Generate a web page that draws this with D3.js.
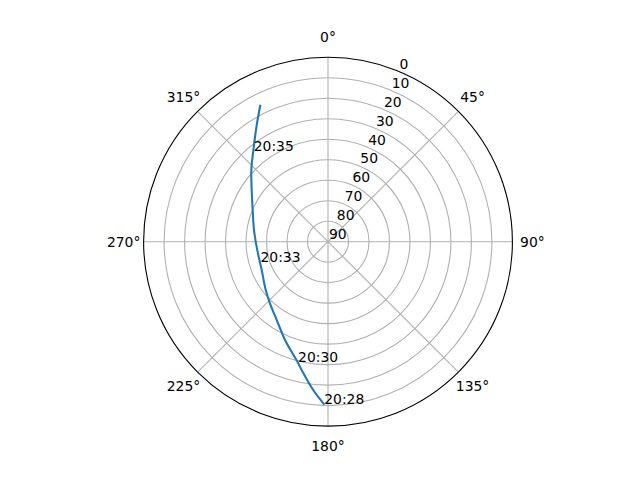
<!DOCTYPE html>
<html>
<head>
<meta charset="utf-8">
<script src="https://cdn.jsdelivr.net/npm/d3@7"></script>
<style>
  html, body { margin: 0; padding: 0; background: #fff; }
  svg { display: block; font-family: "DejaVu Sans", sans-serif; }
</style>
</head>
<body>
<svg id="chart" width="640" height="480"></svg>
<script>
// Pass track: azimuth (deg, clockwise from N) and elevation (deg)
const azimuth   = [181.5, 185.7, 190.6, 194.2, 203.6, 213.2, 223.3, 232.2, 246.9, 253.0, 259.2, 270.0, 279.0, 292.8, 304.1, 313.1, 320.5, 328.6, 333.5];
const elevation = [10.85, 17.26, 24.65, 29.43, 37.63, 44.31, 48.70, 51.53, 54.82, 55.29, 55.37, 54.71, 53.43, 50.12, 45.02, 38.75, 32.65, 23.25, 15.85];
// time annotations and the track point each one sits on
const timeLabels = ["20:28", "20:30", "20:33", "20:35"];
const timeIndex  = [0, 3, 9, 16];
// ticks
const angleTicks  = [0, 45, 90, 135, 180, 225, 270, 315];
const radialTicks = [0, 10, 20, 30, 40, 50, 60, 70, 80, 90];
const gridRings   = [10, 20, 30, 40, 50, 60, 70, 80];

const cx = 328, cy = 241.7, R = 184.4;
const svg = d3.select("#chart");
const g = svg.append("g").attr("transform", `translate(${cx},${cy})`);

const rScale = d3.scaleLinear().domain([90, 0]).range([0, R]);
const aScale = d3.scaleLinear().domain([0, 360]).range([0, 2 * Math.PI]);

// background
g.append("circle").attr("r", R).attr("fill", "#fff");

// grid rings
g.selectAll("circle.ring").data(gridRings).join("circle")
  .attr("class", "ring")
  .attr("r", d => rScale(d))
  .attr("fill", "none").attr("stroke", "#b0b0b0").attr("stroke-width", 1.1);

// spokes
g.selectAll("line.spoke").data(angleTicks).join("line")
  .attr("class", "spoke")
  .attr("x1", 0).attr("y1", 0)
  .attr("x2", d => d3.pointRadial(aScale(d), R)[0])
  .attr("y2", d => d3.pointRadial(aScale(d), R)[1])
  .attr("stroke", "#b0b0b0").attr("stroke-width", 1.1);

// outer spine
g.append("circle").attr("r", R).attr("fill", "none")
  .attr("stroke", "#000").attr("stroke-width", 1.1);

// angle labels
g.selectAll("text.alab").data(angleTicks).join("text")
  .attr("class", "alab")
  .attr("x", d => d3.pointRadial(aScale(d), 204.4)[0])
  .attr("y", d => d3.pointRadial(aScale(d), 204.4)[1] + 5)
  .attr("text-anchor", "middle")
  .attr("font-size", 13.9)
  .attr("fill", "#000")
  .text(d => d + "°");

// radial labels at 22.5°
g.selectAll("text.rlab").data(radialTicks).join("text")
  .attr("class", "rlab")
  .attr("x", d => d3.pointRadial(aScale(22.5), rScale(d))[0] + 1)
  .attr("y", d => d3.pointRadial(aScale(22.5), rScale(d))[1] - 2.5)
  .attr("text-anchor", "start")
  .attr("font-size", 13.9)
  .attr("fill", "#000")
  .text(d => d);

// track
const pts = azimuth.map((a, i) => ({ az: a, el: elevation[i] }));
const line = d3.lineRadial()
  .angle(d => aScale(d.az))
  .radius(d => rScale(d.el))
  .curve(d3.curveCatmullRom);
g.append("path").datum(pts)
  .attr("d", line)
  .attr("fill", "none")
  .attr("stroke", "#1f77b4")
  .attr("stroke-width", 2.08)
  .attr("stroke-linecap", "square");

// time labels
g.selectAll("text.tlab").data(timeLabels).join("text")
  .attr("class", "tlab")
  .attr("x", (d, i) => d3.pointRadial(aScale(pts[timeIndex[i]].az), rScale(pts[timeIndex[i]].el))[0] + 0.5)
  .attr("y", (d, i) => d3.pointRadial(aScale(pts[timeIndex[i]].az), rScale(pts[timeIndex[i]].el))[1])
  .attr("text-anchor", "start")
  .attr("font-size", 13.9)
  .attr("fill", "#000")
  .text(d => d);
</script>
</body>
</html>
